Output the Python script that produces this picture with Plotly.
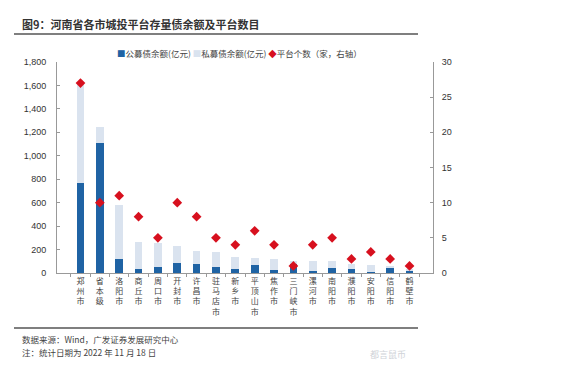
import plotly.graph_objects as go

cities = ["郑州市", "省本级", "洛阳市", "商丘市", "周口市", "开封市", "许昌市", "驻马店市", "新乡市",
          "平顶山市", "焦作市", "三门峡市", "漯河市", "南阳市", "濮阳市", "安阳市", "信阳市", "鹤壁市"]
public_bond = [770, 1110, 117, 30, 55, 82, 75, 54, 37, 65, 28, 74, 17, 43, 32, 8, 43, 22]
total_bond = [1620, 1248, 582, 263, 252, 233, 187, 182, 140, 125, 117, 105, 102, 100, 74, 68, 54, 26]
private_bond = [t - p for t, p in zip(total_bond, public_bond)]
platforms = [27, 10, 11, 8, 5, 10, 8, 5, 4, 6, 4, 1, 4, 5, 2, 3, 2, 1]

left_ticks = list(range(0, 1801, 200))
right_ticks = list(range(0, 31, 5))

BLUE = "#1f63a4"
LIGHT = "#dae3ef"
RED = "#d7101e"
CJK = "Noto Sans CJK SC"
NUM = "Liberation Sans"

tick_text = ["<br>".join(list(c)) for c in cities]

fig = go.Figure()
fig.add_trace(go.Bar(x=cities, y=public_bond, name="公募债余额(亿元)", marker_color=BLUE,
                     marker_line_width=0, showlegend=False))
fig.add_trace(go.Bar(x=cities, y=private_bond, name="私募债余额(亿元)", marker_color=LIGHT,
                     marker_line_width=0, showlegend=False))
fig.add_trace(go.Scatter(x=cities, y=platforms, name="平台个数（家，右轴）", mode="markers",
                         marker=dict(symbol="diamond", size=7.5, color=RED),
                         yaxis="y2", showlegend=False))

fig.update_layout(
    width=572, height=377,
    margin=dict(l=49, r=147, t=54, b=112),
    paper_bgcolor="white", plot_bgcolor="white",
    barmode="stack", bargap=0.6,
    font=dict(family=CJK, size=9, color="#333333"),
    xaxis=dict(type="category", tickmode="array", tickvals=cities, ticktext=tick_text,
               tickfont=dict(family=CJK, size=8, color="#444444"),
               showline=True, linecolor="#999999", linewidth=1,
               ticks="outside", ticklen=3, tickcolor="#999999", tickson="boundaries",
               showgrid=False),
    yaxis=dict(range=[0, 1800], tickvals=left_ticks, tickformat=",",
               tickfont=dict(family=NUM, size=9, color="#333333"),
               showline=True, linecolor="#999999", linewidth=1,
               ticks="inside", ticklen=3, tickcolor="#999999",
               ticklabelstandoff=8, showgrid=False, zeroline=False),
    yaxis2=dict(range=[0, 30], tickvals=right_ticks, overlaying="y", side="right",
                tickfont=dict(family=NUM, size=9, color="#333333"),
                showline=True, linecolor="#999999", linewidth=1,
                ticks="inside", ticklen=3, tickcolor="#999999",
                ticklabelstandoff=6, showgrid=False, zeroline=False),
)

legend_text = (f"<span style='color:{BLUE}'>■</span>公募债余额(亿元) "
               f"<span style='color:{LIGHT}'>■</span>私募债余额(亿元) "
               f"<span style='color:{RED}'>◆</span>平台个数（家，右轴）")
fig.add_annotation(text=legend_text, xref="paper", yref="paper", x=(115 - 57) / 376, y=1 + (62 - 53) / 211,
                   xanchor="left", yanchor="middle", showarrow=False,
                   font=dict(family=CJK, size=8.5, color="#444444"))

fig.add_annotation(text="<b>图9：河南省各市城投平台存量债余额及平台数目</b>", xref="paper", yref="paper",
                   x=(20 - 57) / 376, y=1 + (62 - 24) / 211, xanchor="left", yanchor="middle",
                   showarrow=False, font=dict(family=CJK, size=11, color="#333333"))
fig.add_annotation(text="数据来源：Wind，广发证券发展研究中心", xref="paper", yref="paper",
                   x=(20 - 57) / 376, y=-(339 - 273) / 211, xanchor="left", yanchor="middle",
                   showarrow=False, font=dict(family=CJK, size=8.5, color="#444444"))
fig.add_annotation(text="注：统计日期为 2022 年 11 月 18 日", xref="paper", yref="paper",
                   x=(20 - 57) / 376, y=-(352 - 273) / 211, xanchor="left", yanchor="middle",
                   showarrow=False, font=dict(family=CJK, size=8.5, color="#444444"))
fig.add_annotation(text="都言鼠币", xref="paper", yref="paper",
                   x=(368 - 57) / 376, y=-(354 - 273) / 211, xanchor="left", yanchor="middle",
                   showarrow=False, font=dict(family=CJK, size=9, color="#cfd3d8"))

for ypix in (34, 328):
    yv = 1 + (62 - ypix) / 211 if ypix < 62 else -(ypix - 273) / 211
    fig.add_shape(type="line", xref="paper", yref="paper",
                  x0=(14 - 57) / 376, x1=(418 - 57) / 376, y0=yv, y1=yv,
                  line=dict(color="#555555", width=1.5))

fig.write_html("out.html")
